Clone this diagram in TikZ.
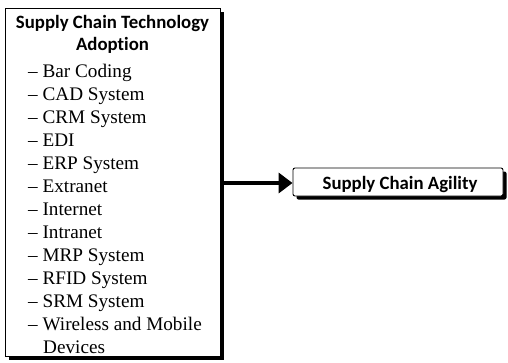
\documentclass[tikz,border=0pt]{standalone}
\usepackage{fontspec}
\setmainfont{Liberation Serif}
\newfontfamily\headfont[Ligatures=NoCommon]{Carlito}
\usetikzlibrary{arrows.meta,shadows}
\tikzset{
  box/.style={draw=black, line width=0.9pt, fill=white, inner sep=0pt,
    drop shadow={fill=black, opacity=1, shadow xshift=3.5pt, shadow yshift=-3.5pt}},
  head/.style={font=\headfont\bfseries\fontsize{18.8}{22}\selectfont, inner sep=0pt, anchor=base},
  item/.style={font=\fontsize{19.2}{22}\selectfont, inner sep=0pt, anchor=base west},
  link/.style={line width=4.5pt, -{Triangle[length=14pt,width=20pt]}}
}
\begin{document}
\begin{tikzpicture}[x=1pt,y=-1pt]
\useasboundingbox (0,0) rectangle (508,362);
\node[box, minimum width=215pt, minimum height=348pt] (left) at (112.5,182) {};
\node[box, rounded corners=2pt, minimum width=210pt, minimum height=28pt] (right) at (398,182) {};
\node[head] (t1) at (112.5,28) {Supply Chain Technology};
\node[head] (t2) at (112.5,50) {Adoption};
\node[head] (rt) at (400,189) {Supply Chain Agility};
\node[item] (i1) at (28,77) {– Bar Coding};
\node[item] (i2) at (28,100) {– CAD System};
\node[item] (i3) at (28,123) {– CRM System};
\node[item] (i4) at (28,146) {– EDI};
\node[item] (i5) at (28,169) {– ERP System};
\node[item] (i6) at (28,192) {– Extranet};
\node[item] (i7) at (28,215) {– Internet};
\node[item] (i8) at (28,238) {– Intranet};
\node[item] (i9) at (28,261) {– MRP System};
\node[item] (i10) at (28,284) {– RFID System};
\node[item] (i11) at (28,307) {– SRM System};
\node[item] (i12) at (28,330) {– Wireless and Mobile};
\node[item] (i13) at (43,353) {Devices};
\draw[link] ([xshift=2pt,yshift=-1pt]left.east) -- ([yshift=-1pt]right.west);
\end{tikzpicture}
\end{document}
